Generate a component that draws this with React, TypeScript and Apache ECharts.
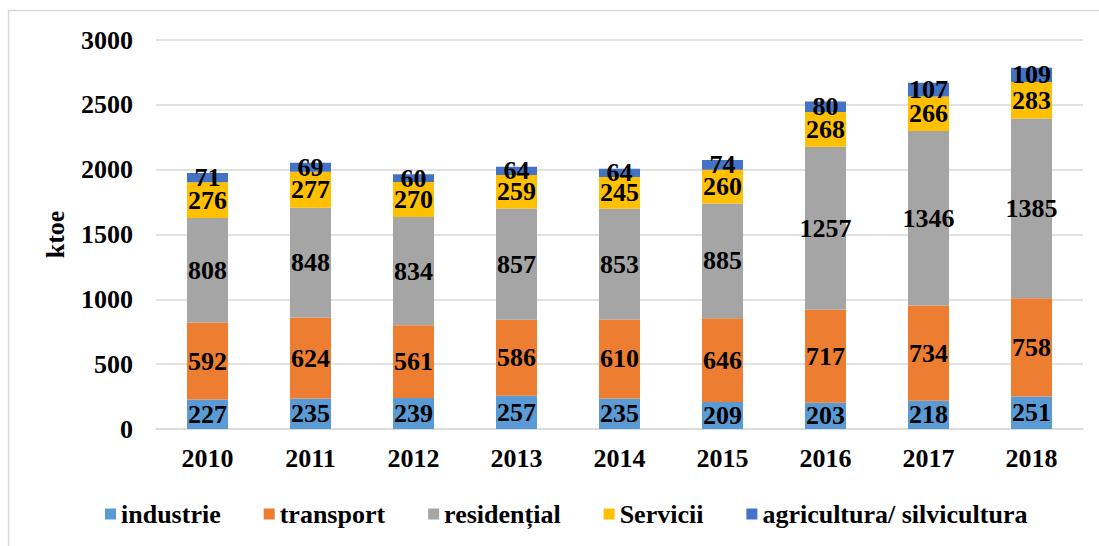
import React, { useEffect, useRef } from "react";
import * as echarts from "echarts";

const years = ["2010", "2011", "2012", "2013", "2014", "2015", "2016", "2017", "2018"];
const industrie = [227, 235, 239, 257, 235, 209, 203, 218, 251];
const transport = [592, 624, 561, 586, 610, 646, 717, 734, 758];
const rezidential = [808, 848, 834, 857, 853, 885, 1257, 1346, 1385];
const servicii = [276, 277, 270, 259, 245, 260, 268, 266, 283];
const agricultura = [71, 69, 60, 64, 64, 74, 80, 107, 109];

const seriesDefs = [
  { name: "industrie", data: industrie, color: "#5B9BD5" },
  { name: "transport", data: transport, color: "#ED7D31" },
  { name: "residențial", data: rezidential, color: "#A5A5A5" },
  { name: "Servicii", data: servicii, color: "#FFC000" },
  { name: "agricultura/ silvicultura", data: agricultura, color: "#4472C4" },
];

const FONT = "Liberation Serif";

export default function App() {
  const ref = useRef<HTMLDivElement>(null);
  useEffect(() => {
    if (!ref.current) return;
    const chart = echarts.init(ref.current, null, { renderer: "svg" });
    chart.setOption({
      animation: false,
      backgroundColor: "#ffffff",
      textStyle: { fontFamily: FONT },
      graphic: [
        {
          type: "rect",
          shape: { x: 8.5, y: 10.5, width: 1200, height: 600 },
          style: { fill: "none", stroke: "#d9d9d9", lineWidth: 1.5 },
          silent: true,
        },
      ],
      grid: { left: 156, right: 16, top: 40, bottom: 117, containLabel: false },
      legend: {
        bottom: 14,
        left: 100,
        itemWidth: 11,
        itemHeight: 11,
        itemGap: 43,
        icon: "rect",
        textStyle: { fontFamily: FONT, fontSize: 26, fontWeight: "bold", color: "#000" },
        data: seriesDefs.map((s) => s.name),
      },
      xAxis: {
        type: "category",
        data: years,
        axisLine: { lineStyle: { color: "#d9d9d9", width: 1.5 } },
        axisTick: { show: false },
        axisLabel: { fontFamily: FONT, fontSize: 26, fontWeight: "bold", color: "#000", margin: 16 },
      },
      yAxis: {
        type: "value",
        min: 0,
        max: 3000,
        interval: 500,
        name: "ktoe",
        nameLocation: "middle",
        nameRotate: 90,
        nameGap: 88,
        nameTextStyle: { fontFamily: FONT, fontSize: 26, fontWeight: "bold", color: "#000" },
        axisLine: { show: false },
        axisTick: { show: false },
        splitLine: { lineStyle: { color: "#d9d9d9", width: 1.5 } },
        axisLabel: {
          fontFamily: FONT,
          fontSize: 26,
          fontWeight: "bold",
          color: "#000",
          margin: 23,
          formatter: (v: number) => String(v),
        },
      },
      series: seriesDefs.map((s) => ({
        name: s.name,
        type: "bar",
        stack: "total",
        barWidth: 41,
        data: s.data,
        itemStyle: { color: s.color },
        label: {
          show: true,
          position: "inside",
          fontFamily: FONT,
          fontSize: 26,
          fontWeight: "bold",
          color: "#000",
        },
        labelLayout: { hideOverlap: false },
      })),
    });
    return () => chart.dispose();
  }, []);
  return (
    <div
      ref={ref}
      style={{ position: "absolute", left: 0, top: 0, width: 1099, height: 546 }}
    />
  );
}
